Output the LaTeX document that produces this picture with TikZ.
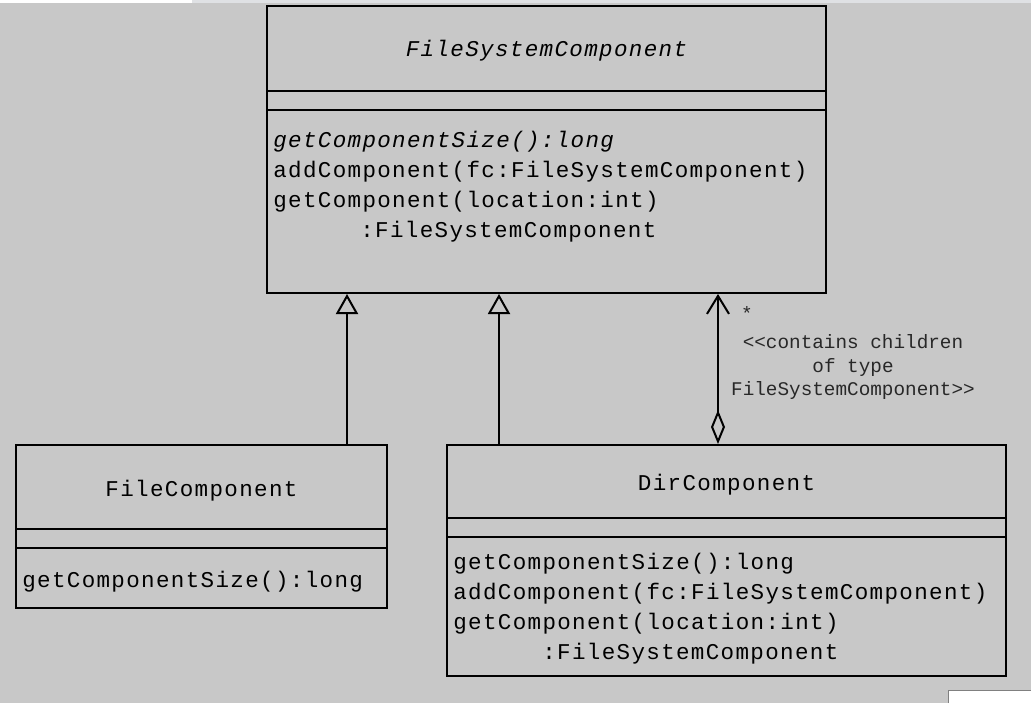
\documentclass[tikz,border=0pt]{standalone}
\usepackage{fontspec}
\usetikzlibrary{arrows.meta,fit}
\newfontfamily\umlfont[LetterSpace=6]{Liberation Mono}
\newfontfamily\lblfont{Liberation Mono}
\definecolor{bg}{HTML}{C8C8C8}
\definecolor{strip}{HTML}{DFE1E4}
\definecolor{lbl}{HTML}{282828}
\tikzset{
  umlbox/.style={draw, line width=1.5pt, inner sep=0pt},
  divider/.style={line width=1.5pt},
  txt/.style={font=\umlfont\fontsize{16.9}{20}\selectfont, inner sep=0pt, anchor=base west},
  nametxt/.style={font=\umlfont\fontsize{16.9}{20}\selectfont, inner sep=0pt, anchor=base},
  lbltxt/.style={font=\lblfont\fontsize{14.5}{17.5}\selectfont, inner sep=0pt, anchor=base, text=lbl},
  gen/.style={line width=1.5pt, -{Triangle[open, length=15pt, width=16.5pt]}},
  agg/.style={line width=1.5pt, {Diamond[open, length=25.5pt, width=10.5pt]}-{Straight Barb[length=13.5pt, width=16.5pt]}}
}
\begin{document}
\begin{tikzpicture}[x=0.75pt, y=-0.75pt]
\useasboundingbox (0,0) rectangle (1031,703);
\fill[bg] (0,0) rectangle (1031,703);
\fill[white] (0,0) rectangle (192,3);
\fill[strip] (192,0) rectangle (1031,3);
\fill[white] (948,690) rectangle (1031,703);
\draw[gray, line width=0.75pt] (948,703) -- (948,690) -- (1031,690);

% FileSystemComponent
\node[umlbox, fit={(267,6) (826,293)}] (fsc) {};
\draw[divider] (267,91) -- (826,91);
\draw[divider] (267,110) -- (826,110);
\node[nametxt, font=\umlfont\itshape\fontsize{16.9}{20}\selectfont] (fscname) at (546.5,56) {FileSystemComponent};
\node[txt, font=\umlfont\itshape\fontsize{16.9}{20}\selectfont] (fscm1) at (273,147) {getComponentSize():long};
\node[txt] (fscm2) at (273,177) {addComponent(fc:FileSystemComponent)};
\node[txt] (fscm3) at (273,207) {getComponent(location:int)};
\node[txt] (fscm4) at (360,237) {:FileSystemComponent};

% FileComponent
\node[umlbox, fit={(16,445) (387,608)}] (fileC) {};
\draw[divider] (16,529) -- (387,529);
\draw[divider] (16,548) -- (387,548);
\node[nametxt] (filename) at (201.5,496) {FileComponent};
\node[txt] (filem1) at (22,587) {getComponentSize():long};

% DirComponent
\node[umlbox, fit={(447,445) (1006,676)}] (dirC) {};
\draw[divider] (447,518) -- (1006,518);
\draw[divider] (447,537) -- (1006,537);
\node[nametxt] (dirname) at (726.5,490) {DirComponent};
\node[txt] (dirm1) at (453,569) {getComponentSize():long};
\node[txt] (dirm2) at (453,599) {addComponent(fc:FileSystemComponent)};
\node[txt] (dirm3) at (453,629) {getComponent(location:int)};
\node[txt] (dirm4) at (542,659) {:FileSystemComponent};

% connectors
\coordinate (g1) at (347,0);
\coordinate (g2) at (499,0);
\coordinate (ag) at (718,0);
\draw[gen] (fileC.north -| g1) -- (fsc.south -| g1);
\draw[gen] (dirC.north -| g2) -- (fsc.south -| g2);
\draw[agg] (dirC.north -| ag) -- (fsc.south -| ag);

% labels
\node[lbltxt] (mult) at (747,320) {*};
\node[lbltxt] (l1) at (853,348) {<<contains children};
\node[lbltxt] (l2) at (853,372) {of type};
\node[lbltxt] (l3) at (853,395) {FileSystemComponent>>};
\end{tikzpicture}
\end{document}
